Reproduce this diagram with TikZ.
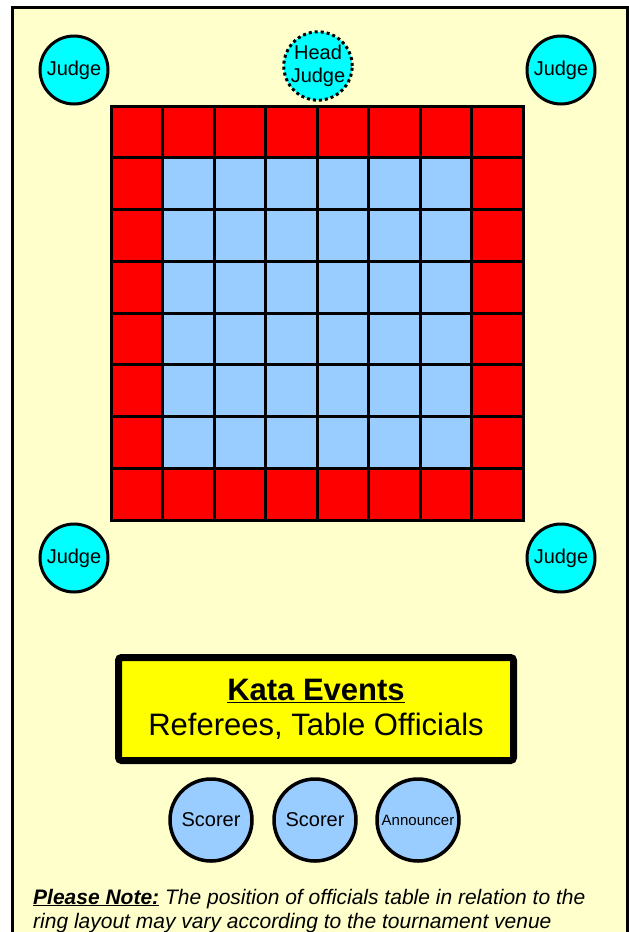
\documentclass[tikz,border=0pt]{standalone}
\usepackage{fontspec}
\setmainfont{Liberation Sans}

\definecolor{paper}{HTML}{FFFFCC}
\definecolor{matred}{HTML}{FF0000}
\definecolor{matblue}{HTML}{99CCFF}
\definecolor{judgecyan}{HTML}{00FFFF}
\definecolor{tableyellow}{HTML}{FFFF00}

\tikzset{
    judge/.style={circle, draw, line width=3pt, fill=judgecyan,
        minimum size=68pt, inner sep=0pt, font=\fontsize{20}{23}\selectfont},
    headjudge/.style={judge, dash pattern=on 3pt off 3pt, align=center},
    official/.style={circle, draw, line width=3.5pt, fill=matblue,
        minimum size=82pt, inner sep=0pt, font=\fontsize{20}{24}\selectfont},
    notetext/.style={anchor=base west, inner sep=0pt,
        font=\fontsize{21}{24}\selectfont\itshape}
}

\begin{document}
\begin{tikzpicture}[x=1pt, y=-1pt]
    \useasboundingbox (0,0) rectangle (629,932);
    \clip (0,0) rectangle (629,932);

    % Sheet
    \fill[white] (0,0) rectangle (629,932);
    \filldraw[fill=paper, line width=3pt]
        (12,945) -- (12,7) -- (627,7) -- (627,945);

    % Competition area
    \fill[matred] (111,106) rectangle (523,520);
    \fill[matblue] (162.5,157.75) rectangle (471.5,468.25);
    \foreach \i in {0,...,8} {
        \draw[line width=3pt, line cap=rect]
            (111+51.5*\i,106) -- (111+51.5*\i,520);
        \draw[line width=3pt, line cap=rect]
            (111,106+51.75*\i) -- (523,106+51.75*\i);
    }

    % Judges
    \node[judge] (judgeNW) at (74,70) {Judge};
    \node[judge] (judgeNE) at (561,70) {Judge};
    \node[judge] (judgeSW) at (74,558) {Judge};
    \node[judge] (judgeSE) at (561,558) {Judge};
    \node[headjudge] (headjudge) at (318,66) {Head\\Judge};

    % Officials table
    \node[draw, line width=7pt, rounded corners=3pt, fill=tableyellow,
        minimum width=395pt, minimum height=103pt, align=center,
        font=\fontsize{31}{35}\selectfont] (table) at (316,709)
        {\underline{\textbf{Kata Events}}\\Referees, Table Officials};

    \node[official] (scorerA) at (211,820) {Scorer};
    \node[official] (scorerB) at (315,820) {Scorer};
    \node[official, font=\fontsize{15}{18}\selectfont] (announcer)
        at (418,820) {Announcer};

    % Note
    \node[notetext] (noteA) at (33,904)
        {\underline{\textbf{Please Note:}} The position of officials table in relation to the};
    \node[notetext] (noteB) at (33,928)
        {ring layout may vary according to the tournament venue};
\end{tikzpicture}
\end{document}
